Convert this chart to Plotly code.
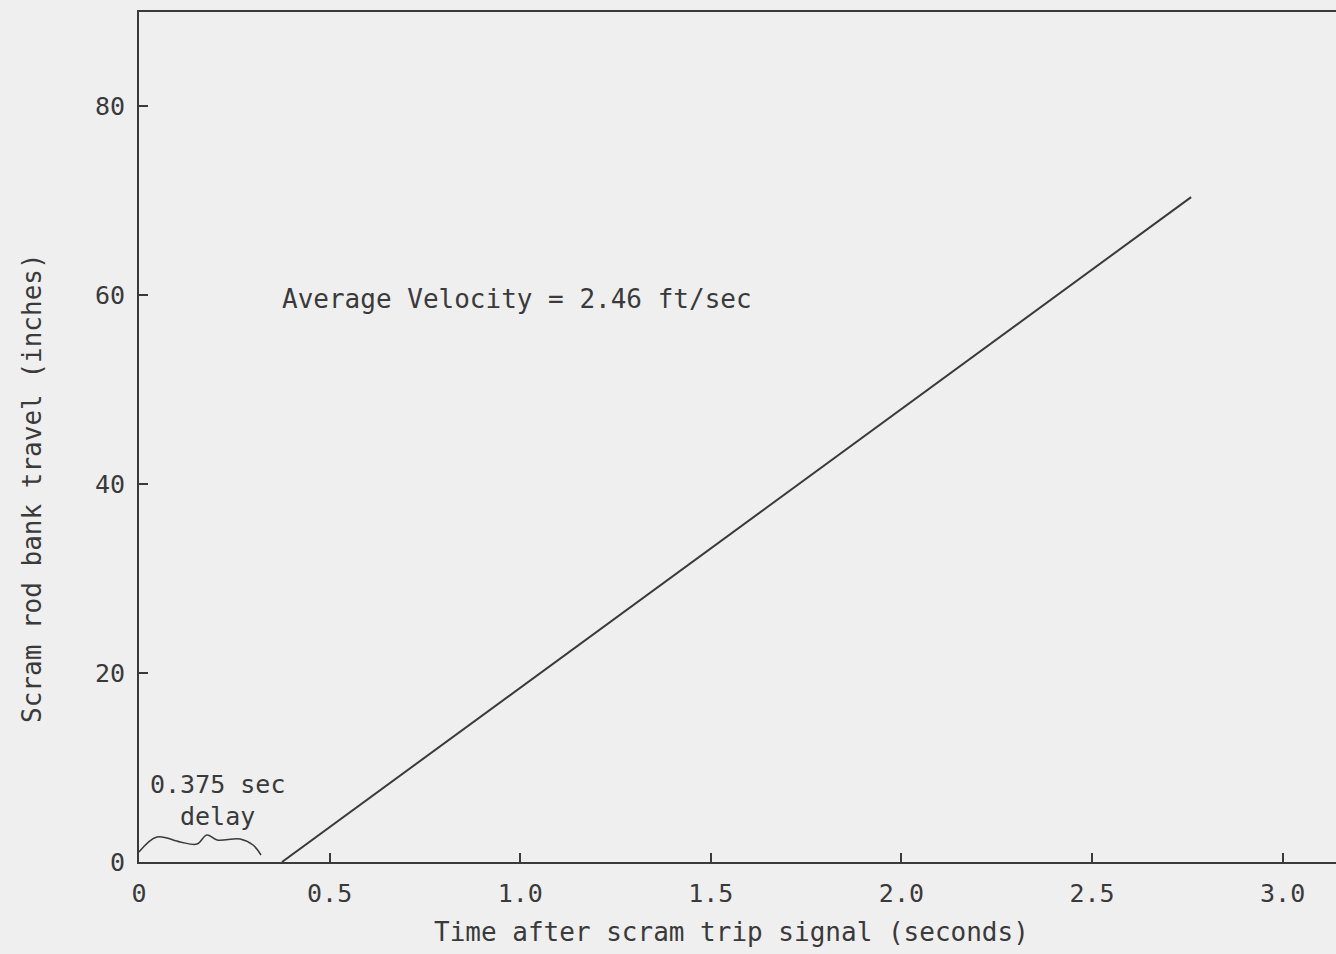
import plotly.graph_objects as go

# Data
time_s = [0.375, 2.76]          # seconds after scram trip signal
travel_in = [0.0, 70.4]         # scram rod bank travel (inches)

brace_x = [0.0, 0.047, 0.108, 0.152, 0.178, 0.205, 0.265, 0.299, 0.320]
brace_y = [1.06, 2.65, 2.12, 1.9, 2.86, 2.33, 2.44, 1.8, 0.74]

x_ticks = [0, 0.5, 1.0, 1.5, 2.0, 2.5, 3.0]
x_tick_labels = ["0", "0.5", "1.0", "1.5", "2.0", "2.5", "3.0"]
y_ticks = [0, 20, 40, 60, 80]
y_tick_labels = ["0", "20", "40", "60", "80"]

INK = "#3a3a3a"
BG = "#efefef"
FONT = "DejaVu Sans Mono"

fig = go.Figure()
fig.add_trace(go.Scatter(x=time_s, y=travel_in, mode="lines",
                         line=dict(color=INK, width=2), showlegend=False,
                         hoverinfo="skip"))
fig.add_trace(go.Scatter(x=brace_x, y=brace_y, mode="lines",
                         line=dict(color=INK, width=1.5, shape="spline"),
                         showlegend=False, hoverinfo="skip"))

fig.add_annotation(x=0.992, y=59.6, xref="x", yref="y", text="Average Velocity = 2.46 ft/sec",
                   showarrow=False, font=dict(family=FONT, size=26, color=INK),
                   xanchor="center", yanchor="middle")
fig.add_annotation(x=0.205, y=8.16, xref="x", yref="y", text="0.375 sec",
                   showarrow=False, font=dict(family=FONT, size=25, color=INK),
                   xanchor="center", yanchor="middle")
fig.add_annotation(x=0.205, y=4.77, xref="x", yref="y", text="delay",
                   showarrow=False, font=dict(family=FONT, size=25, color=INK),
                   xanchor="center", yanchor="middle")

# Axis titles
fig.add_annotation(x=0.4946, y=-0.082, xref="paper", yref="paper",
                   text="Time after scram trip signal (seconds)", showarrow=False,
                   font=dict(family=FONT, size=26, color=INK),
                   xanchor="center", yanchor="middle")
fig.add_annotation(x=-0.0894, y=0.44, xref="paper", yref="paper",
                   text="Scram rod bank travel (inches)", showarrow=False,
                   textangle=-90, font=dict(family=FONT, size=26, color=INK),
                   xanchor="center", yanchor="middle")

fig.update_xaxes(range=[0, 3.14], tickvals=x_ticks, ticktext=x_tick_labels,
                 ticks="inside", ticklen=9, tickwidth=1.5, tickcolor=INK,
                 showline=True, linecolor=INK, linewidth=2, mirror=True,
                 showgrid=False, zeroline=False, ticklabelstandoff=8,
                 tickfont=dict(family=FONT, size=25, color=INK))
fig.update_yaxes(range=[0, 90], tickvals=y_ticks, ticktext=y_tick_labels,
                 ticks="inside", ticklen=9, tickwidth=1.5, tickcolor=INK,
                 showline=True, linecolor=INK, linewidth=2, mirror=False,
                 showgrid=False, zeroline=False, ticklabelstandoff=7,
                 tickfont=dict(family=FONT, size=25, color=INK))

fig.update_layout(width=1336, height=954,
                  margin=dict(l=139, r=0, t=12, b=92),
                  paper_bgcolor=BG, plot_bgcolor=BG)

fig.write_html("out.html",
               config={"displayModeBar": False},
               post_script="document.body.style.margin='0';"
                           "document.body.style.background='%s';"
                           "document.body.style.overflow='hidden';" % BG)
